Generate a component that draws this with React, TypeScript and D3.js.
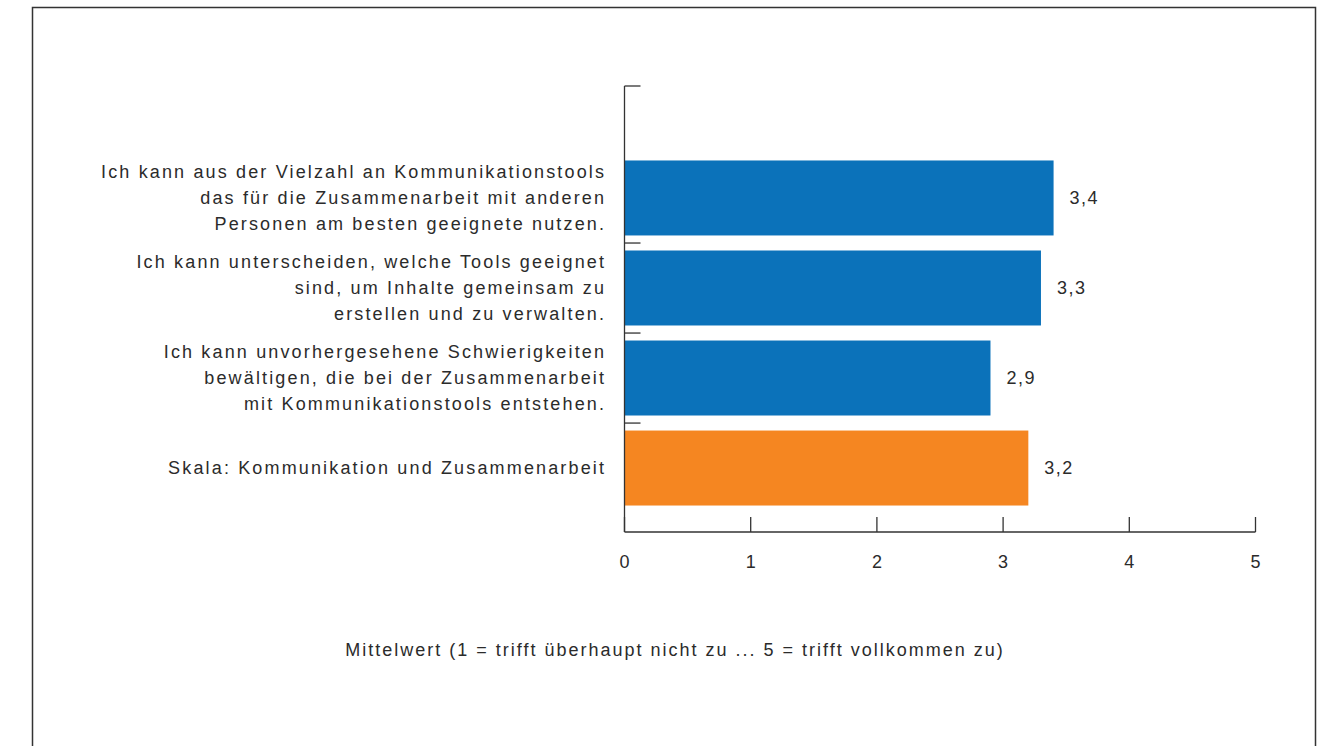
import React from "react";
import * as d3 from "d3";

const categories = [
  ["Ich kann aus der Vielzahl an Kommunikationstools", "das für die Zusammenarbeit mit anderen", "Personen am besten geeignete nutzen."],
  ["Ich kann unterscheiden, welche Tools geeignet", "sind, um Inhalte gemeinsam zu", "erstellen und zu verwalten."],
  ["Ich kann unvorhergesehene Schwierigkeiten", "bewältigen, die bei der Zusammenarbeit", "mit Kommunikationstools entstehen."],
  ["Skala: Kommunikation und Zusammenarbeit"],
];
const values = [3.4, 3.3, 2.9, 3.2];
const valueLabels = ["3,4", "3,3", "2,9", "3,2"];
const barColors = ["#0b72ba", "#0b72ba", "#0b72ba", "#f58621"];
const xTicks = [0, 1, 2, 3, 4, 5];
const xTitle = "Mittelwert (1 = trifft überhaupt nicht zu ... 5 = trifft vollkommen zu)";

export default function App() {
  const W = 1319, H = 746;
  const x = d3.scaleLinear().domain([0, 5]).range([624.5, 1255.5]);
  const y = d3.scaleBand<number>().domain(d3.range(categories.length)).range([153, 513]).paddingInner(0.167).paddingOuter(0.083);
  const axisTop = 86, axisBottom = 532;
  const font = "'Liberation Sans', Arial, sans-serif";
  const fs = 18;
  const ls = 2.15;
  const lsTitle = 2.0;
  const textColor = "#2b2b2b";
  const sepTicks = [axisTop, ...d3.range(1, categories.length).map(i => y.range()[0] + i * y.step())];
  return (
    <svg width={W} height={H} style={{ position: "absolute", left: 0, top: 0 }}>
      <rect x={0} y={0} width={W} height={H} fill="#fff" />
      <path d={`M32.5,${H + 5}V7.5H1315.5V${H + 5}`} fill="none" stroke="#333" strokeWidth={1.5} />
      {values.map((v, i) => (
        <rect key={i} x={x(0)} y={y(i)} width={x(v) - x(0)} height={y.bandwidth()} fill={barColors[i]} />
      ))}
      {values.map((v, i) => (
        <text key={"v" + i} x={x(v) + 16} y={y(i)! + y.bandwidth() / 2} dy="0.35em" fontFamily={font} fontSize={fs} letterSpacing={1.5} fill={textColor}>{valueLabels[i]}</text>
      ))}
      {categories.map((lines, i) => {
        const cy = y(i)! + y.bandwidth() / 2;
        const lh = 26;
        return (
          <text key={"c" + i} textAnchor="end" fontFamily={font} fontSize={fs} fill={textColor} letterSpacing={ls}>
            {lines.map((l, j) => (
              <tspan key={j} x={604 + ls} y={cy + (j - (lines.length - 1) / 2) * lh} dy="0.35em">{l}</tspan>
            ))}
          </text>
        );
      })}
      <line x1={x(0)} x2={x(0)} y1={axisTop} y2={axisBottom} stroke="#333" strokeWidth={1.3} />
      <line x1={x(0)} x2={x(5)} y1={axisBottom} y2={axisBottom} stroke="#333" strokeWidth={1.3} />
      {sepTicks.map((t, i) => (
        <line key={"s" + i} x1={x(0)} x2={x(0) + 16} y1={t} y2={t} stroke="#333" strokeWidth={1.3} />
      ))}
      {xTicks.map(t => (
        <g key={"t" + t}>
          <line x1={x(t)} x2={x(t)} y1={axisBottom} y2={axisBottom - 15} stroke="#333" strokeWidth={1.3} />
          <text x={x(t)} y={562} dy="0.35em" textAnchor="middle" fontFamily={font} fontSize={fs} fill={textColor}>{t}</text>
        </g>
      ))}
      <text x={674 + lsTitle / 2} y={650} dy="0.35em" textAnchor="middle" fontFamily={font} fontSize={fs} fill={textColor} letterSpacing={lsTitle}>{xTitle}</text>
    </svg>
  );
}
